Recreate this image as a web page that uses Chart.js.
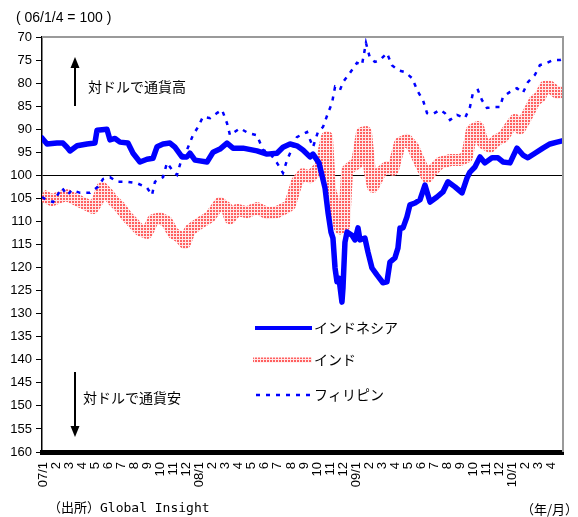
<!DOCTYPE html>
<html><head><meta charset="utf-8">
<script src="https://cdn.jsdelivr.net/npm/chart.js@4.4.1/dist/chart.umd.min.js"></script>
<style>html,body{margin:0;padding:0;background:#fff;}canvas{display:block;}</style>
</head><body>
<canvas id="c" width="578" height="517"></canvas>
<script>
const monthLabels = ['07/1','2','3','4','5','6','7','8','9','10','11','12',
  '08/1','2','3','4','5','6','7','8','9','10','11','12',
  '09/1','2','3','4','5','6','7','8','9','10','11','12',
  '10/1','2','3','4'];
const yTicks = [70,75,80,85,90,95,100,105,110,115,120,125,130,135,140,145,150,155,160];

const indonesiaX = [-0.08,0.31,1.07,1.53,1.84,2.07,2.61,3.37,3.98,4.14,4.90,5.13,5.52,5.90,6.51,6.90,7.43,7.97,8.43,8.74,9.20,9.73,10.11,10.65,11.03,11.26,11.65,12.57,13.03,13.56,14.10,14.56,15.33,16.40,17.16,17.93,18.39,18.93,19.46,19.92,20.46,20.69,21.15,21.61,21.84,22.07,22.22,22.38,22.53,22.68,22.91,22.99,23.14,23.30,23.68,23.91,24.14,24.29,24.67,24.90,25.21,25.59,26.05,26.36,26.59,26.97,27.20,27.36,27.59,27.89,28.12,28.51,28.89,29.27,29.66,30.19,30.65,31.03,31.57,32.11,32.49,32.72,33.10,33.49,33.87,34.41,34.87,35.25,35.79,36.32,36.78,37.16,37.70,38.31,38.85,39.39,39.85];
const indonesiaY = [91.9,93.2,93.0,93.0,93.9,94.7,93.6,93.2,93.0,90.2,90.0,92.3,92.0,92.8,93.0,95.2,97.1,96.5,96.3,93.8,93.2,93.0,93.9,96.0,96.0,95.2,96.7,97.1,95.0,94.3,93.0,94.1,94.1,94.7,95.4,95.2,93.9,93.2,93.6,94.5,96.0,95.4,97.3,102.7,108,112.3,113.6,120.1,123.1,122.3,127.5,124.4,114.5,112.3,113,114,111.4,114,113.6,116.6,120.1,121.6,123.3,123.1,118.8,117.9,115.8,111.4,111.4,109,106.4,106,105.3,102.1,105.8,104.7,103.6,101.4,102.5,103.8,100.6,99.3,98.2,96.0,97.3,96.2,96.2,97.1,97.3,94.1,95.6,96.2,95.2,94.1,93.2,92.8,92.5];

const indiaX = [-0.08,0.69,1.30,1.84,2.61,3.37,3.83,4.21,4.52,4.90,5.36,5.90,6.44,6.90,7.43,7.97,8.43,8.97,9.50,9.96,10.50,10.88,11.26,12.03,12.80,13.56,14.10,14.33,14.87,15.63,16.40,17.16,17.93,18.70,18.93,19.46,19.92,20.46,21.23,21.76,21.99,22.22,22.76,23.07,23.30,23.68,24.06,24.44,24.75,25.06,25.29,25.82,26.36,26.82,27.36,27.89,28.35,28.89,29.43,29.89,30.42,31.19,31.95,32.49,32.87,33.33,33.72,34.25,34.79,35.25,35.79,36.17,36.55,36.78,37.32,37.70,38.08,38.47,38.85,39.39,39.85];
const indiaY = [104.3,105.4,104.7,104.3,105.4,106.4,107.1,105.4,102.7,103.8,105.4,106.9,109.0,110.3,111.9,112.5,109.7,109.3,110.1,112.5,113.4,114.7,111.9,110.3,109.0,106.0,107.1,109.3,107.5,108.0,107.1,108.2,108.0,106.9,106.4,101.4,99.8,100.4,98.2,91.7,103.0,105.4,111.5,111.0,99.0,98.0,97.4,90.8,90.6,99.5,102.5,99.5,98.2,98.8,93.0,92.3,93.8,97.3,100.4,98.8,97.3,96.7,96.7,96.0,90.2,89.5,93.0,93.8,92.3,91.7,89.5,88.0,89.8,88.7,85.8,83.7,83.0,80.8,80.8,82.1,81.9];

const philippinesX = [-0.08,0.31,0.77,1.46,1.84,2.22,2.84,3.60,4.21,4.60,5.13,5.67,6.44,7.20,7.97,8.35,8.58,9.20,9.50,9.89,10.27,10.65,11.03,11.49,11.88,12.26,12.80,13.33,13.72,14.10,14.33,15.10,15.71,16.40,16.86,17.39,17.93,18.39,18.70,18.93,19.46,20.23,20.69,21.07,21.46,21.84,22.15,22.38,22.76,22.99,23.52,24.06,24.44,24.75,25.06,25.44,25.82,26.36,26.74,27.20,27.74,28.28,28.74,29.12,29.43,29.89,30.42,30.80,31.19,31.72,32.34,32.72,32.95,33.33,33.64,34.02,34.48,35.02,35.25,35.79,36.32,36.78,37.16,37.70,38.08,38.62,39.08,39.62,39.85];
const philippinesY = [104.7,105.4,105.8,102.7,104.3,103.2,103.8,103.8,102.5,100.8,100.4,101.4,101.4,101.7,102.7,104.3,101.4,100.4,97.3,98.8,99.9,96.2,94.5,91.3,89.5,87.3,87.6,86.5,85.8,88.7,91.3,89.8,90.8,91.3,94.5,95.2,97.3,99.5,96.7,95.2,91.7,90.6,93.9,90.6,89.5,86.5,84.3,80.8,81.5,79.8,77.8,75.6,76.1,71.3,74.6,75.4,75.0,73.5,76.1,77.2,77.6,78.9,81.9,83.7,86.5,86.7,85.8,86.5,88.0,86.9,87.6,85.2,82.1,81.5,83.7,85.4,85.2,85.2,83.0,81.9,81.1,82.1,79.8,78.2,76.1,75.6,75.0,75.0,74.8];

const seriesNames = ['インドネシア','インド','フィリピン'];

function pts(xs, ys){ return xs.map((x,i)=>({x:x, y:ys[i]})); }

// dotted pink pattern for India
const pc = document.createElement('canvas'); pc.width = 3; pc.height = 3;
const pctx = pc.getContext('2d');
pctx.fillStyle = '#ffe8e8'; pctx.fillRect(0,0,3,3);
pctx.fillStyle = '#ff6060'; pctx.fillRect(0,0,2,2);
const ctx = document.getElementById('c').getContext('2d');
const indiaPattern = ctx.createPattern(pc, 'repeat');

const BLUE = '#0000ff';
const jpFont = "'Noto Sans CJK JP', 'Noto Sans', sans-serif";

const annotations = {
  id: 'annotations',
  afterDraw(chart){
    const c = chart.ctx, a = chart.chartArea;
    c.save();
    // gray frame top / right
    c.strokeStyle = '#9a9a9a'; c.lineWidth = 2;
    c.beginPath(); c.moveTo(a.left, a.top); c.lineTo(a.right, a.top); c.lineTo(a.right, a.bottom); c.stroke();
    // title
    c.fillStyle = '#000'; c.textBaseline = 'middle'; c.textAlign = 'left';
    c.font = "14px 'Liberation Sans', Arial, sans-serif";
    c.fillText('( 06/1/4 = 100 )', 16, 18);
    // arrows
    c.strokeStyle = '#000'; c.lineWidth = 2;
    c.beginPath(); c.moveTo(75, 106); c.lineTo(75, 66); c.stroke();
    c.beginPath(); c.moveTo(75, 57); c.lineTo(70.5, 68); c.lineTo(79.5, 68); c.closePath(); c.fill();
    c.beginPath(); c.moveTo(75, 372); c.lineTo(75, 428); c.stroke();
    c.beginPath(); c.moveTo(75, 437); c.lineTo(70.5, 426); c.lineTo(79.5, 426); c.closePath(); c.fill();
    c.font = '14px ' + jpFont;
    c.fillText('対ドルで通貨高', 88, 87);
    c.fillText('対ドルで通貨安', 83, 398);
    // legend
    const lx0 = 255, lx1 = 312;
    c.strokeStyle = BLUE; c.lineWidth = 4;
    c.beginPath(); c.moveTo(lx0, 328); c.lineTo(lx1, 328); c.stroke();
    c.fillStyle = indiaPattern; c.fillRect(253, 357.5, lx1 - 253, 5);
    c.strokeStyle = BLUE; c.lineWidth = 2.5; c.setLineDash([4, 6]);
    c.beginPath(); c.moveTo(256, 395); c.lineTo(lx1, 395); c.stroke();
    c.setLineDash([]);
    c.fillStyle = '#000'; c.font = '14px ' + jpFont;
    c.fillText(seriesNames[0], 314, 328);
    c.fillText(seriesNames[1], 314, 360);
    c.fillText(seriesNames[2], 314, 395);
    // footer
    c.font = "13px 'DejaVu Sans Mono', 'Noto Sans CJK JP', monospace";
    c.fillText('（出所）Global Insight', 48, 509);
    c.textAlign = 'right';
    c.font = '13px ' + jpFont;
    c.fillText('（年/月）', 578, 509);
    c.restore();
  }
};

new Chart(ctx, {
  type: 'line',
  data: {
    datasets: [
      { label: seriesNames[0], data: pts(indonesiaX, indonesiaY), borderColor: BLUE, borderWidth: 5.5,
        pointRadius: 0, tension: 0, borderJoinStyle: 'round', borderCapStyle: 'round', order: 1 },
      { label: seriesNames[1], data: pts(indiaX, indiaY), borderColor: indiaPattern, borderWidth: 12,
        pointRadius: 0, tension: 0, borderJoinStyle: 'round', order: 3 },
      { label: seriesNames[2], data: pts(philippinesX, philippinesY), borderColor: BLUE, borderWidth: 2.5,
        borderDash: [4, 6], pointRadius: 0, tension: 0, order: 2 }
    ]
  },
  options: {
    responsive: false, animation: false, devicePixelRatio: 1,
    layout: { padding: { top: 37, right: 15, left: 0, bottom: 0 } },
    plugins: { legend: { display: false }, tooltip: { enabled: false } },
    scales: {
      x: {
        type: 'linear', min: -0.077, max: 39.85,
        afterFit(s){ s.height = 65; },
        afterBuildTicks(s){ s.ticks = monthLabels.map((l, i) => ({ value: i })); },
        grid: { display: false, drawTicks: false },
        border: { display: true, color: '#000', width: 5 },
        ticks: {
          autoSkip: false, minRotation: 90, maxRotation: 90, padding: 10,
          color: '#000', font: { family: "'Liberation Sans', Arial, sans-serif", size: 13 },
          callback: (v) => monthLabels[Math.round(v)]
        }
      },
      y: {
        reverse: true, min: 70, max: 160,
        afterFit(s){ s.width = 42; },
        afterBuildTicks(s){ s.ticks = yTicks.map(v => ({ value: v })); },
        grid: {
          color: (c) => (c.tick && c.tick.value === 100) ? '#000' : 'rgba(0,0,0,0)',
          tickColor: '#000', tickLength: 6, lineWidth: 1
        },
        border: { display: true, color: '#000', width: 1.5 },
        ticks: {
          padding: 4, color: '#000',
          font: { family: "'Liberation Sans Narrow', 'Liberation Sans', Arial, sans-serif", size: 13 }
        }
      }
    }
  },
  plugins: [annotations]
});
</script>
</body></html>
